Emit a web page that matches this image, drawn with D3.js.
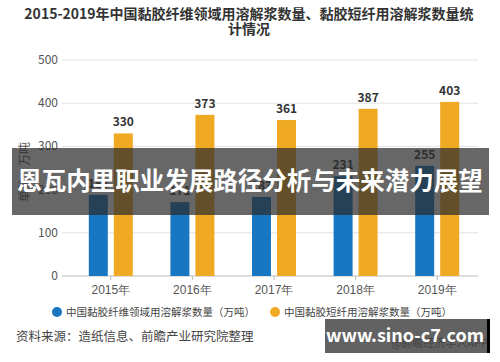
<!DOCTYPE html>
<html>
<head>
<meta charset="utf-8">
<script src="https://cdn.jsdelivr.net/npm/d3@7"></script>
<style>
  body { margin: 0; background: #fff; }
  svg { font-family: "Noto Sans CJK SC", "Noto Sans", sans-serif; }
</style>
</head>
<body>
<script>
const years = ['2015年', '2016年', '2017年', '2018年', '2019年']
const fiberPulp = [188, 171, 183, 231, 255]
const staplePulp = [330, 373, 361, 387, 403]
const yTicks = [0, 100, 200, 300, 400, 500]
const seriesNames = ['中国黏胶纤维领域用溶解浆数量（万吨）', '中国黏胶短纤用溶解浆数量（万吨）']
const colors = ['#1877c2', '#f0a923']

const m = { width: 500, height: 362 }

const svg = d3.select('body').append('svg')
    .attr('width', m.width)
    .attr('height', m.height)

// title
const title = svg.append('text')
    .attr('text-anchor', 'middle')
    .attr('fill', '#333')
    .attr('font-size', 14)
    .attr('font-weight', 'bold')
title.append('tspan').attr('x', 249).attr('y', 19)
    .text('2015-2019年中国黏胶纤维领域用溶解浆数量、黏胶短纤用溶解浆数量统')
title.append('tspan').attr('x', 249).attr('y', 34).text('计情况')

const x = d3.scaleBand()
    .domain(years)
    .range([70, 478])

const y = d3.scaleLinear()
    .domain([0, 500])
    .range([276, 60])

// grid + y labels
svg.append('g')
    .selectAll('line')
    .data(yTicks)
    .enter()
    .append('line')
        .attr('x1', 62).attr('x2', 478)
        .attr('y1', d => y(d)).attr('y2', d => y(d))
        .attr('stroke', d => d === 0 ? '#bbb' : '#e2e2e2')

svg.append('g')
    .selectAll('text')
    .data(yTicks)
    .enter()
    .append('text')
        .attr('x', 58)
        .attr('y', d => y(d) + 4)
        .attr('text-anchor', 'end')
        .attr('font-size', 12)
        .attr('fill', '#555')
        .text(d => d)

svg.append('text')
    .attr('transform', 'translate(29,172) rotate(-90)')
    .attr('text-anchor', 'middle')
    .attr('font-size', 12)
    .attr('fill', '#555')
    .text('单位：万吨')

// x axis
const xAxis = svg.append('g')
    .attr('transform', 'translate(0,276)')
    .call(d3.axisBottom(x).tickSize(4).tickSizeOuter(0))
xAxis.select('.domain').remove()
xAxis.selectAll('line').attr('stroke', '#bbb')
xAxis.selectAll('text')
    .attr('font-size', 12)
    .attr('fill', '#555')
    .attr('dy', '0.9em')

const barW = 19
const gap = 6

const series = [fiberPulp, staplePulp]
series.forEach(function(vals, i) {
    const off = i === 0 ? -gap / 2 - barW : gap / 2
    const g = svg.append('g')
    g.selectAll('rect')
        .data(vals)
        .enter()
        .append('rect')
            .attr('x', (d, j) => x(years[j]) + x.bandwidth() / 2 + off)
            .attr('y', d => y(d))
            .attr('width', barW)
            .attr('height', d => y(0) - y(d))
            .attr('fill', colors[i])
    g.selectAll('text')
        .data(vals)
        .enter()
        .append('text')
            .attr('x', (d, j) => x(years[j]) + x.bandwidth() / 2 + off + barW / 2)
            .attr('y', d => y(d) - 7)
            .attr('text-anchor', 'middle')
            .attr('font-size', 12)
            .attr('font-weight', 'bold')
            .attr('fill', '#333')
            .text(d => d)
})

// legend
const legend = svg.append('g')
seriesNames.forEach(function(name, i) {
    const lx = i === 0 ? 57 : 275
    legend.append('circle')
        .attr('cx', lx).attr('cy', 312).attr('r', 5)
        .attr('fill', colors[i])
    legend.append('text')
        .attr('x', lx + 9).attr('y', 316)
        .attr('font-size', 10.5)
        .attr('fill', '#444')
        .text(name)
})

svg.append('text')
    .attr('x', 16).attr('y', 341)
    .attr('font-size', 12.5)
    .attr('fill', '#444')
    .text('资料来源：造纸信息、前瞻产业研究院整理')

svg.append('text')
    .attr('x', 488).attr('y', 347)
    .attr('text-anchor', 'end')
    .attr('font-size', 11)
    .attr('fill', '#888')
    .text('@前瞻经济学人APP')

// overlay banner
svg.append('rect')
    .attr('x', 12).attr('y', 148)
    .attr('width', 477).attr('height', 67)
    .attr('fill', 'rgba(45,45,45,0.72)')
svg.append('text')
    .attr('x', 250).attr('y', 190)
    .attr('text-anchor', 'middle')
    .attr('font-size', 24.5)
    .attr('font-weight', 'bold')
    .attr('fill', '#fff')
    .text('恩瓦内里职业发展路径分析与未来潜力展望')

// site watermark
svg.append('rect')
    .attr('x', 325).attr('y', 319)
    .attr('width', 164).attr('height', 34)
    .attr('fill', 'rgba(45,45,45,0.75)')
svg.append('rect')
    .attr('x', 487).attr('y', 319)
    .attr('width', 3).attr('height', 34)
    .attr('fill', '#000')
svg.append('text')
    .attr('x', 405).attr('y', 342)
    .attr('text-anchor', 'middle')
    .attr('font-size', 18)
    .attr('font-weight', 'bold')
    .attr('fill', '#fff')
    .text('www.sino-c7.com')
</script>
</body>
</html>
